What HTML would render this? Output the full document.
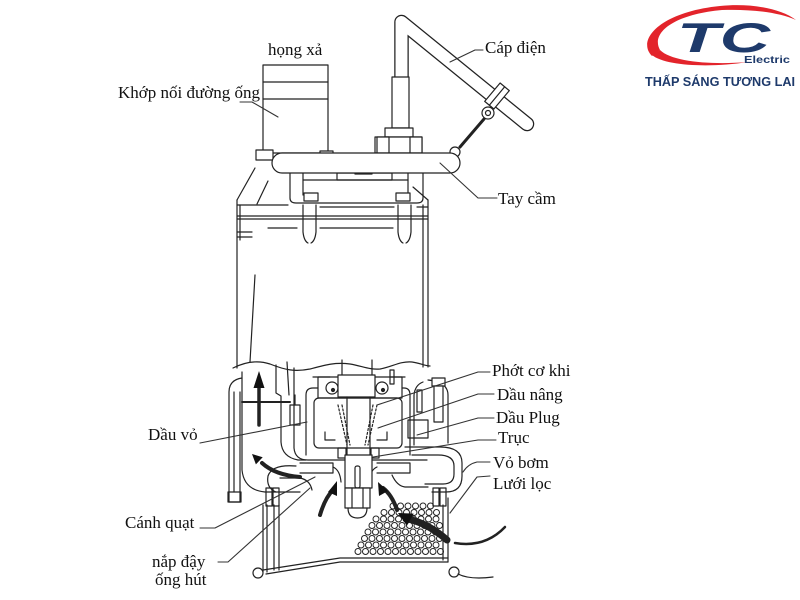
<!DOCTYPE html>
<html><head><meta charset="utf-8">
<style>
html,body{margin:0;padding:0;background:#fff;}
svg{display:block;}
.lb{font-family:"Liberation Serif","DejaVu Serif",serif;font-size:17px;fill:#111;}
</style></head><body>
<svg width="800" height="600" viewBox="0 0 800 600" xmlns="http://www.w3.org/2000/svg">
<rect width="800" height="600" fill="#fff"/>

<!-- LOGO -->
<path d="M652 56 C636 40,660 12,720 6 C750 3,780 8,796 20 C778 12,750 9,722 10 C676 14,650 32,660 50 Z" fill="#e3242b"/>
<path d="M652 55 C665 66,710 68,748 62 C712 65,672 62,660 50 Z" fill="#e3242b"/>
<text x="677" y="52" font-family="Liberation Sans,sans-serif" font-size="42" font-weight="bold" font-style="italic" fill="#1e3a6b" textLength="93" lengthAdjust="spacingAndGlyphs">TC</text>
<text x="744" y="63" font-family="Liberation Sans,sans-serif" font-size="10" font-weight="bold" fill="#1e3a6b" textLength="46" lengthAdjust="spacingAndGlyphs">Electric</text>
<text x="645" y="86" font-family="Liberation Sans,sans-serif" font-size="12.5" font-weight="bold" fill="#1e3a6b" textLength="150" lengthAdjust="spacingAndGlyphs">THẤP SÁNG TƯƠNG LAI</text>

<g fill="none" stroke="#222" stroke-width="1.2" stroke-linejoin="round" stroke-linecap="round">
<!-- MOTOR BODY -->
<path d="M237 200 L237 368"/>
<path d="M240 205 L240 240"/>
<path d="M428 200 L428 367"/>
<path d="M423 205 L423 367"/>
<path d="M255 168 L237 200"/>
<path d="M268 181 L257 204"/>
<path d="M413 187 L428 200"/>
<path d="M237 205 L288 205"/>
<path d="M320 207 L394 207"/>
<path d="M417 207 L428 207"/>
<path d="M237 216 L428 216"/>
<path d="M237 219 L428 219"/>
<path d="M268 228 L297 228"/>
<path d="M320 228 L393 228"/>
<path d="M237 232 L252 232"/>
<path d="M237 237 L252 237"/>
<path d="M255 275 L250 362"/>
<!-- bracket -->
<path d="M290 173 L290 198 Q290 203 296 203 L417 203 Q423 203 423 198 L423 173"/>
<path d="M303 173 L303 195"/>
<path d="M408 173 L408 195"/>
<path d="M303 180 L408 180"/>
<rect x="337" y="173" width="55" height="7"/>
<rect x="355" y="169" width="17" height="5"/>
<!-- lugs -->
<path d="M303 205 L303 232 Q304 241 308 243"/>
<path d="M316 205 L316 232 Q315 241 311 243"/>
<path d="M398 205 L398 232 Q399 241 403 243"/>
<path d="M411 205 L411 232 Q410 241 406 243"/>
<rect x="304" y="193" width="14" height="8" fill="#fff"/>
<rect x="396" y="193" width="14" height="8" fill="#fff"/>

<!-- DISCHARGE PIPE -->
<rect x="263" y="65" width="65" height="88" fill="#fff"/>
<path d="M263 82 L328 82"/>
<path d="M263 99 L328 99"/>
<rect x="256" y="150" width="17" height="10" fill="#fff"/>
<rect x="320" y="151" width="13" height="5" fill="#fff"/>

<!-- CABLE -->
<path d="M401.5 82 L401.5 22 L527 124" stroke="#222" stroke-width="14.5"/>
<path d="M401.5 82 L401.5 22 L527 124" stroke="#fff" stroke-width="12"/>
<rect x="392" y="77" width="17" height="51" fill="#fff"/>
<rect x="385" y="128" width="28" height="9" fill="#fff"/>
<rect x="375" y="137" width="47" height="16" fill="#fff"/>
<rect x="377" y="137" width="12" height="16" fill="#fff"/>
<rect x="410" y="137" width="12" height="16" fill="#fff"/>
<polygon points="509.3,90.6 493.9,109 484.7,101.4 500.1,83" fill="#fff"/>
<path d="M504.7 86.8 L489.3 105.2"/>
<circle cx="488" cy="113" r="6" fill="#fff"/>
<circle cx="488" cy="113" r="2.5"/>
<path d="M484 119 L460 147" stroke-width="3"/>
<circle cx="455" cy="152" r="5" fill="#fff"/>

<!-- HANDLE -->
<rect x="272" y="153" width="188" height="20" rx="10" fill="#fff"/>

<!-- LOWER CASING -->
<path d="M233 368 C245 362,258 360,270 364 C285 370,295 372,310 369 C325 365,335 362,350 364 C362 366,370 370,380 369 C392 367,400 361,412 362 C420 363,425 366,430 366"/>
<path d="M242 372 L242 470 Q244 490 265 492 L300 492"/>
<path d="M242 378 Q229 380 229 392 L229 502 L240 502 L240 392"/>
<path d="M234 392 L234 492"/>
<rect x="228" y="492" width="13" height="10"/>
<path d="M242 402 L290 402" stroke-width="2"/>
<!-- inner left walls -->
<path d="M276 365 L276 393 L281 396 L281 442 Q282 457 298 460 L306 460"/>
<path d="M287 362 L289 395"/>
<rect x="290" y="405" width="10" height="20"/>
<path d="M295 395 L295 405"/>
<path d="M294 368 L294 448 Q295 460 308 460 L427 460"/>
<path d="M296 466 Q272 464 268 476 Q266 488 276 492"/>
<path d="M280 478 L300 478 Q310 480 312 490"/>
<!-- seal chamber -->
<path d="M306 455 L306 395 Q306 388 313 388 L318 388"/>
<path d="M402 388 L404 388 Q410 388 410 395 L410 455"/>
<rect x="314" y="398" width="88" height="50" rx="5"/>
<rect x="318" y="377" width="84" height="21"/>
<path d="M313 377 L330 377"/>
<path d="M390 377 L405 377"/>
<circle cx="332" cy="388" r="6"/>
<circle cx="382" cy="388" r="6"/>
<circle cx="333" cy="390" r="1.5" fill="#222"/>
<circle cx="383" cy="390" r="1.5" fill="#222"/>
<rect x="390" y="370" width="4" height="14"/>
<!-- shaft -->
<path d="M342 360 L342 375"/>
<path d="M372 360 L372 375"/>
<rect x="338" y="375" width="37" height="22" fill="#fff"/>
<path d="M347 397 L347 455"/>
<path d="M370 397 L370 455"/>
<path d="M338 405 L347 445" stroke-dasharray="2 2"/>
<path d="M342 405 L350 445" stroke-dasharray="2 2"/>
<path d="M377 405 L368 445" stroke-dasharray="2 2"/>
<path d="M373 405 L365 445" stroke-dasharray="2 2"/>
<path d="M325 432 L325 440 L335 440"/>
<path d="M387 432 L387 440 L377 440"/>
<rect x="338" y="448" width="8" height="10"/>
<rect x="371" y="448" width="8" height="10"/>
<!-- right casing -->
<path d="M428 380 Q448 382 448 395 L448 443"/>
<path d="M423 382 Q415 385 414 395 L414 445"/>
<rect x="432" y="378" width="13" height="8" fill="#fff"/>
<rect x="434" y="386" width="9" height="36" fill="#fff"/>
<rect x="417" y="390" width="5" height="22"/>
<rect x="408" y="420" width="20" height="18"/>
<path d="M405 447 L440 447 Q462 447 462 463 L462 476 Q462 492 446 492 L432 492"/>
<path d="M412 455 L438 455 Q454 455 454 466 L454 474 Q454 484 443 484 L425 484"/>
<path d="M392 475 Q397 486 405 487 L428 487"/>
<!-- impeller -->
<path d="M300 463 L333 463 L333 473 L300 473"/>
<path d="M377 463 L410 463 L410 473 L377 473"/>
<path d="M333 467 Q340 470 341 482"/>
<path d="M377 467 Q370 470 369 482"/>
<rect x="345" y="455" width="27" height="33" fill="#fff"/>
<rect x="355" y="466" width="5" height="22" rx="2"/>
<rect x="345" y="488" width="25" height="20" fill="#fff"/>
<path d="M352 488 L352 508 M363 488 L363 508"/>
<path d="M348 508 Q348 518 357.5 518 Q367 518 367 508"/>
<!-- bottom bolts -->
<rect x="266" y="488" width="6" height="18"/>
<rect x="273" y="488" width="6" height="18"/>
<rect x="433" y="488" width="6" height="18"/>
<rect x="440" y="488" width="6" height="18"/>

<!-- STRAINER -->
<path d="M263 505 L263 572 M267 505 L267 572 M274 505 L274 570 M279 505 L279 570"/>
<path d="M448 498 L448 562 M443 505 L443 560"/>
<path d="M263 570 L340 558 L448 558"/>
<path d="M266 574 L340 562 L448 562"/>
<circle cx="258" cy="573" r="5"/>
<circle cx="454" cy="572" r="5"/>
<path d="M455 543 Q485 548 505 527" stroke-width="2.5"/>
<path d="M458 574 Q470 580 493 577"/>

<!-- perforations -->
<g stroke-width="1">
<circle cx="393" cy="506" r="3"/><circle cx="400.5" cy="506" r="3"/><circle cx="408" cy="506" r="3"/><circle cx="415.5" cy="506" r="3"/><circle cx="423" cy="506" r="3"/><circle cx="430.5" cy="506" r="3"/>
<circle cx="384" cy="512.5" r="3"/><circle cx="391.5" cy="512.5" r="3"/><circle cx="399" cy="512.5" r="3"/><circle cx="406.5" cy="512.5" r="3"/><circle cx="414" cy="512.5" r="3"/><circle cx="421.5" cy="512.5" r="3"/><circle cx="429" cy="512.5" r="3"/><circle cx="436.5" cy="512.5" r="3"/>
<circle cx="376" cy="519" r="3"/><circle cx="383.5" cy="519" r="3"/><circle cx="391" cy="519" r="3"/><circle cx="398.5" cy="519" r="3"/><circle cx="406" cy="519" r="3"/><circle cx="413.5" cy="519" r="3"/><circle cx="421" cy="519" r="3"/><circle cx="428.5" cy="519" r="3"/><circle cx="436" cy="519" r="3"/>
<circle cx="372" cy="525.5" r="3"/><circle cx="379.5" cy="525.5" r="3"/><circle cx="387" cy="525.5" r="3"/><circle cx="394.5" cy="525.5" r="3"/><circle cx="402" cy="525.5" r="3"/><circle cx="409.5" cy="525.5" r="3"/><circle cx="417" cy="525.5" r="3"/><circle cx="424.5" cy="525.5" r="3"/><circle cx="432" cy="525.5" r="3"/><circle cx="439.5" cy="525.5" r="3"/>
<circle cx="368" cy="532" r="3"/><circle cx="375.5" cy="532" r="3"/><circle cx="383" cy="532" r="3"/><circle cx="390.5" cy="532" r="3"/><circle cx="398" cy="532" r="3"/><circle cx="405.5" cy="532" r="3"/><circle cx="413" cy="532" r="3"/><circle cx="420.5" cy="532" r="3"/><circle cx="428" cy="532" r="3"/><circle cx="435.5" cy="532" r="3"/>
<circle cx="364.5" cy="538.5" r="3"/><circle cx="372" cy="538.5" r="3"/><circle cx="379.5" cy="538.5" r="3"/><circle cx="387" cy="538.5" r="3"/><circle cx="394.5" cy="538.5" r="3"/><circle cx="402" cy="538.5" r="3"/><circle cx="409.5" cy="538.5" r="3"/><circle cx="417" cy="538.5" r="3"/><circle cx="424.5" cy="538.5" r="3"/><circle cx="432" cy="538.5" r="3"/><circle cx="439.5" cy="538.5" r="3"/>
<circle cx="361" cy="545" r="3"/><circle cx="368.5" cy="545" r="3"/><circle cx="376" cy="545" r="3"/><circle cx="383.5" cy="545" r="3"/><circle cx="391" cy="545" r="3"/><circle cx="398.5" cy="545" r="3"/><circle cx="406" cy="545" r="3"/><circle cx="413.5" cy="545" r="3"/><circle cx="421" cy="545" r="3"/><circle cx="428.5" cy="545" r="3"/><circle cx="436" cy="545" r="3"/>
<circle cx="358" cy="551.5" r="3"/><circle cx="365.5" cy="551.5" r="3"/><circle cx="373" cy="551.5" r="3"/><circle cx="380.5" cy="551.5" r="3"/><circle cx="388" cy="551.5" r="3"/><circle cx="395.5" cy="551.5" r="3"/><circle cx="403" cy="551.5" r="3"/><circle cx="410.5" cy="551.5" r="3"/><circle cx="418" cy="551.5" r="3"/><circle cx="425.5" cy="551.5" r="3"/><circle cx="433" cy="551.5" r="3"/><circle cx="440.5" cy="551.5" r="3"/>
</g>

<!-- ARROWS -->
<path d="M259 425 L259 384" stroke-width="3.5"/>
<path d="M300 477 Q275 475 262 463" stroke-width="4"/>
<path d="M320 515 Q325 498 333 490" stroke-width="4"/>
<path d="M397 510 Q392 495 383 488" stroke-width="4"/>
<path d="M447 540 Q430 525 412 520" stroke-width="7"/>

<!-- LEADERS -->
<g stroke="#333" stroke-width="1.1">
<path d="M240 102 L252 102 L278 117"/>
<path d="M483 50 L475 50 L450 62"/>
<path d="M497 198 L478 198 L440 163"/>
<path d="M490 372 L478 372 L377 405"/>
<path d="M494 394 L478 394 L378 428"/>
<path d="M494 418 L478 418 L417 435"/>
<path d="M496 440 L478 440 L373 457"/>
<path d="M490 462 L477 462 Q468 464 463 472"/>
<path d="M490 476 L477 477 L450 513"/>
<path d="M200 443 L307 422"/>
<path d="M200 528 L215 528 L315 477"/>
<path d="M218 562 L228 562 L310 488"/>
</g>
</g>

<!-- arrowheads -->
<g fill="#111">
<polygon points="259,371 253.5,388 264.5,388"/>
<polygon points="252,454 262.7,457.2 255.9,464.4"/>
<polygon points="337,481 328,492 337,496"/>
<polygon points="378,482 379,496 388,491"/>
<polygon points="398,513 413.7,513.6 406.9,525.8"/>
</g>

<!-- LABELS -->
<text class="lb" x="268" y="55">họng xả</text>
<text class="lb" x="485" y="53">Cáp điện</text>
<text class="lb" x="118" y="98">Khớp nối đường ống</text>
<text class="lb" x="498" y="204">Tay cầm</text>
<text class="lb" x="492" y="376">Phớt cơ khi</text>
<text class="lb" x="497" y="400">Dầu nâng</text>
<text class="lb" x="496" y="423">Dầu Plug</text>
<text class="lb" x="498" y="443">Trục</text>
<text class="lb" x="493" y="468">Vỏ bơm</text>
<text class="lb" x="493" y="489">Lưới lọc</text>
<text class="lb" x="148" y="440">Dầu vỏ</text>
<text class="lb" x="125" y="528">Cánh quạt</text>
<text class="lb" x="152" y="567">nắp đậy</text>
<text class="lb" x="155" y="585">ống hút</text>
</svg>
</body></html>
